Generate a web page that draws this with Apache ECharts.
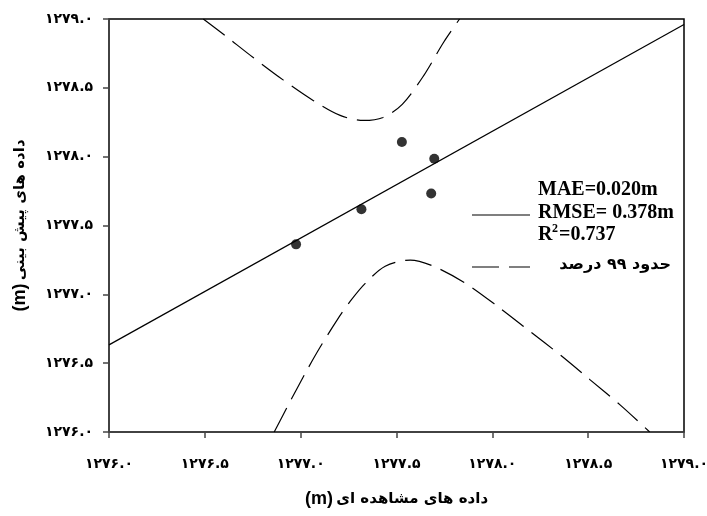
<!DOCTYPE html>
<html>
<head>
<meta charset="utf-8">
<script src="https://cdn.jsdelivr.net/npm/echarts@6/dist/echarts.min.js"></script>
<style>
html,body{margin:0;padding:0;background:#fff;}
#chart{width:707px;height:516px;}
</style>
</head>
<body>
<div id="chart"></div>
<script>
// Observed vs predicted points
const observedX = [1276.976, 1277.317, 1277.528, 1277.697, 1277.681];
const predictedY = [1277.363, 1277.618, 1278.106, 1277.985, 1277.733];

// Regression line end points
const fitX = [1276.0, 1279.0];
const fitY = [1276.633, 1278.96];

// 99% band – upper curve
const upperX = [1276.492, 1276.597, 1276.754, 1276.910, 1277.067, 1277.206, 1277.328, 1277.430, 1277.530, 1277.641, 1277.746, 1277.829];
const upperY = [1279.0, 1278.889, 1278.718, 1278.556, 1278.407, 1278.300, 1278.263, 1278.285, 1278.380, 1278.587, 1278.831, 1279.0];

// 99% band – lower curve
const lowerX = [1276.862, 1276.945, 1277.032, 1277.102, 1277.189, 1277.258, 1277.337, 1277.441, 1277.572, 1277.700, 1277.860, 1278.030, 1278.198, 1278.355, 1278.512, 1278.668, 1278.821];
const lowerY = [1276.0, 1276.222, 1276.447, 1276.617, 1276.811, 1276.949, 1277.080, 1277.204, 1277.249, 1277.200, 1277.080, 1276.910, 1276.729, 1276.559, 1276.377, 1276.195, 1276.0];

// Axis settings
const axisMin = 1276.0, axisMax = 1279.0, axisStep = 0.5;

// Texts
const xAxisTitle = 'داده های مشاهده ای';
const yAxisTitle = 'داده های پیش بینی';
const unitText = '(m)';
const statLines = ['MAE=0.020m', 'RMSE= 0.378m', '=0.737'];
const bandLabel = 'حدود ۹۹ درصد';

const faDigits = '۰۱۲۳۴۵۶۷۸۹';
const toFa = v => v.toFixed(1).replace(/\d/g, d => faDigits[+d]);
const zip = (a, b) => a.map((v, i) => [v, b[i]]);

const chart = echarts.init(document.getElementById('chart'));

const nameRich = {
  a: {fontFamily: 'DejaVu Sans', fontWeight: 'bold', fontSize: 15, color: '#000'},
  b: {fontFamily: 'Liberation Sans', fontWeight: 'bold', fontSize: 18, color: '#000'}
};

const axisCommon = {
  type: 'value',
  min: axisMin, max: axisMax, interval: axisStep,
  splitLine: {show: false},
  axisLine: {show: true, onZero: false, lineStyle: {color: '#444', width: 1.5}},
  axisTick: {show: true, inside: false, length: 6, lineStyle: {color: '#444', width: 1.5}},
  axisLabel: {formatter: toFa, fontFamily: 'DejaVu Sans', fontWeight: 'bold', fontSize: 14, color: '#000'},
  nameLocation: 'middle',
  nameTextStyle: {rich: nameRich}
};

const serifBold = 'bold 20px "Liberation Serif"';

chart.setOption({
  animation: false,
  backgroundColor: '#fff',
  grid: {left: 109, right: 23, top: 19, bottom: 84, containLabel: false, outerBoundsMode: 'none',
         show: true, borderColor: '#000', borderWidth: 1.5},
  xAxis: Object.assign({}, axisCommon, {
    name: '{b|' + unitText + '} {a|' + xAxisTitle + '}',
    nameGap: 58,
    axisLabel: Object.assign({}, axisCommon.axisLabel, {margin: 25})
  }),
  yAxis: Object.assign({}, axisCommon, {
    name: '{b|' + unitText + '} {a|' + yAxisTitle + '}',
    nameGap: 80,
    nameRotate: 90,
    axisLabel: Object.assign({}, axisCommon.axisLabel, {margin: 16})
  }),
  series: [
    {
      type: 'line', data: zip(fitX, fitY), symbol: 'none',
      lineStyle: {color: '#000', width: 1.2}, z: 2
    },
    {
      type: 'line', data: zip(upperX, upperY), smooth: 0.3, symbol: 'none',
      lineStyle: {color: '#000', width: 1.2, type: [27, 10]}, z: 2
    },
    {
      type: 'line', data: zip(lowerX, lowerY), smooth: 0.3, symbol: 'none',
      lineStyle: {color: '#000', width: 1.2, type: [27, 10]}, z: 2
    },
    {
      type: 'scatter', data: zip(observedX, predictedY), symbol: 'circle', symbolSize: 10,
      itemStyle: {color: '#000'}, z: 3
    }
  ],
  graphic: [
    {type: 'text', left: 538, top: 180, style: {text: statLines[0], font: serifBold, fill: '#000'}},
    {type: 'text', left: 538, top: 203, style: {text: statLines[1], font: serifBold, fill: '#000'}},
    {type: 'text', left: 538, top: 225, style: {text: 'R', font: serifBold, fill: '#000'}},
    {type: 'text', left: 552, top: 223, style: {text: '2', font: 'bold 12px "Liberation Serif"', fill: '#000'}},
    {type: 'text', left: 559, top: 225, style: {text: statLines[2], font: serifBold, fill: '#000'}},
    {type: 'line', shape: {x1: 472, y1: 215, x2: 530, y2: 215}, style: {stroke: '#000', lineWidth: 1.2}},
    {type: 'line', shape: {x1: 472, y1: 267, x2: 530, y2: 267}, style: {stroke: '#000', lineWidth: 1.2, lineDash: [27, 10]}},
    {type: 'text', right: 36, top: 257, style: {text: bandLabel, font: 'bold 16px "DejaVu Sans"', fill: '#000'}}
  ]
});
</script>
</body>
</html>
